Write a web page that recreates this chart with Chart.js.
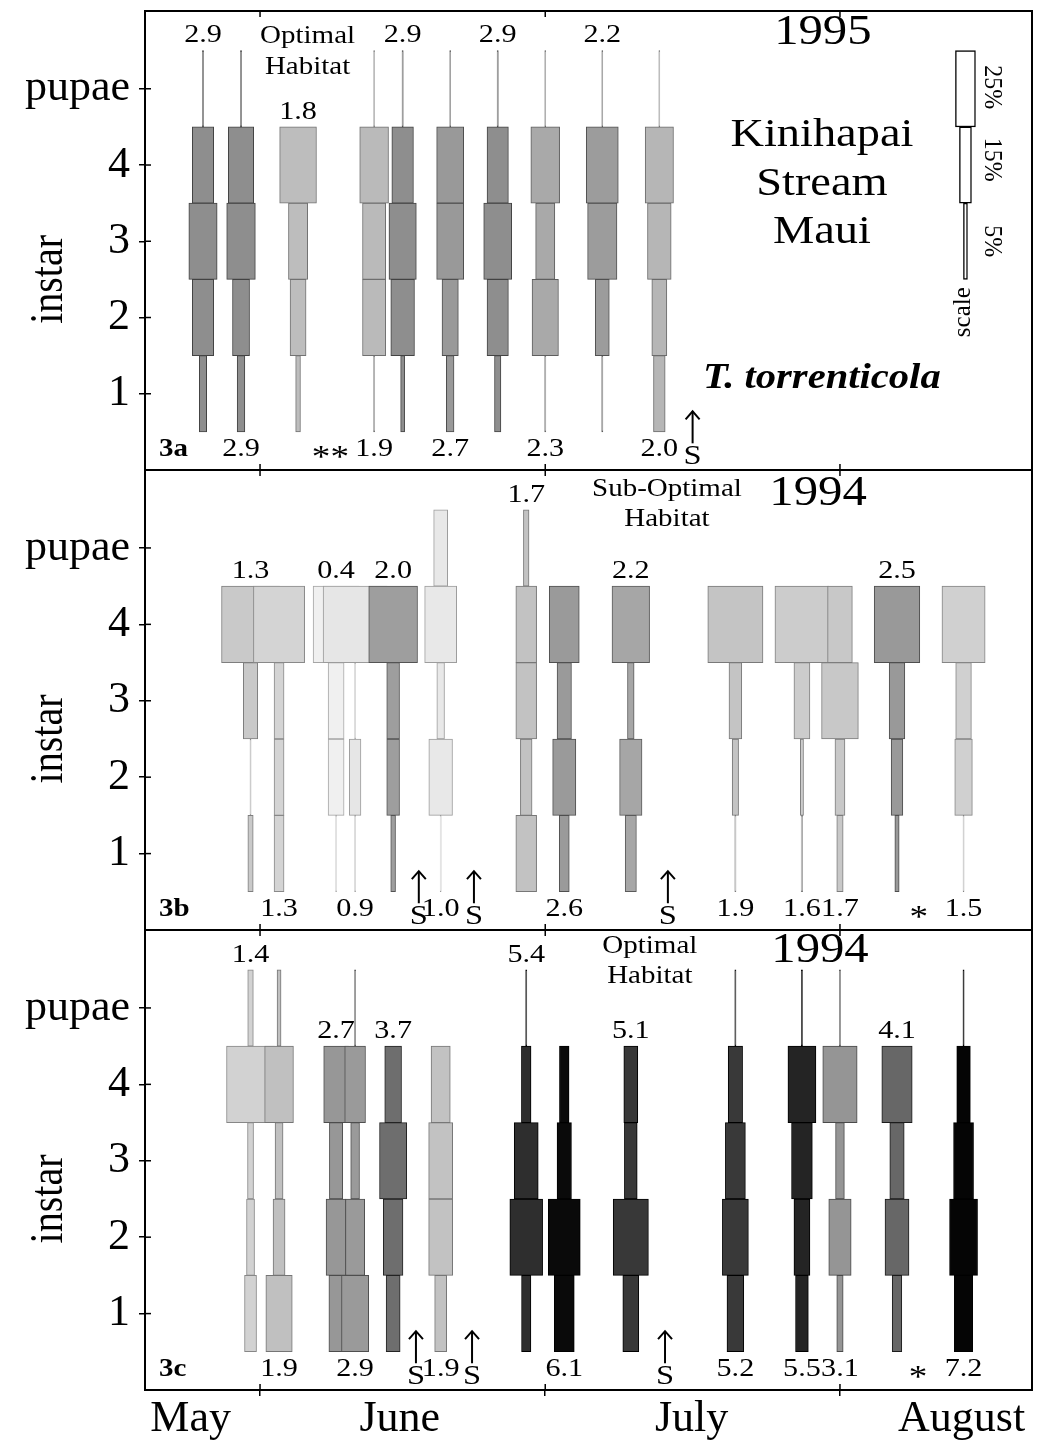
<!DOCTYPE html>
<html>
<head>
<meta charset="utf-8">
<script src="https://cdn.jsdelivr.net/npm/chart.js@4.4.1/dist/chart.umd.min.js"></script>
<style>
html,body{margin:0;padding:0;background:#fff;}
#wrap{position:relative;width:1042px;height:1441px;overflow:hidden;}
canvas{position:absolute;left:0;}
</style>
</head>
<body>
<div id="wrap">
<canvas id="c1" width="1042" height="480" style="top:0px;width:1042px;height:480px"></canvas>
<canvas id="c2" width="1042" height="480" style="top:460px;width:1042px;height:480px"></canvas>
<canvas id="c3" width="1042" height="521" style="top:920px;width:1042px;height:521px"></canvas>
</div>
<script>
// ================= DATA =================
const instarLevels = [1, 2, 3, 4, 5];
const yTickLabels = ['1', '2', '3', '4', 'pupae'];
const monthNames = ['May', 'June', 'July', 'August'];
const monthLabelDays = [23.7, 45.7, 76.4, 104.8];      // days since May 1
const monthStartDates = ['06-01', '07-01', '08-01'];

// ---- 3a : 1995, optimal habitat ----
const dates3a   = ['05-26','05-30','06-05','06-13','06-16','06-21','06-26','07-01','07-07','07-13'];
const density3a = [2.9, 2.9, 1.8, 1.9, 2.9, 2.7, 2.9, 2.3, 2.2, 2.0];
const side3a    = ['above','below','above','below','above','below','above','below','above','below'];
const instar1_3a = [9.2, 9.6, 6, 1.5, 5, 9.6, 8, 1.5, 1.5, 14.6];
const instar2_3a = [26.7, 21.3, 20, 29, 29.6, 20.4, 26.7, 33, 17.5, 18.8];
const instar3_3a = [35.4, 35.8, 24, 29, 34.2, 33.8, 35, 24, 36.7, 29.6];
const instar4_3a = [26.7, 31.7, 46, 36, 27, 33.8, 26.7, 36, 40, 35.4];
const pupae_3a   = [1.5, 1.5, 0, 1.2, 1.5, 1.2, 1.5, 1.2, 1.2, 1.2];
const storms3a   = [76.5];          // days since May 1
const stars3a    = [38.4];
const starText3a = ['**'];

// scale legend (3a)
const scaleDay = 105.2;
const scaleLevels = [5, 4, 3];
const scalePct = [25, 15, 5];
const scaleLabels = ['25%', '15%', '5%'];

// ---- 3b : 1994, sub-optimal habitat ----
const dates3b   = ['05-31','06-03','06-09','06-11','06-15','06-20','06-29','07-03','07-10','07-21','07-28','08-01','08-07','08-14'];
const density3b = [1.3, 1.3, 0.4, 0.9, 2.0, 1.0, 1.7, 2.6, 2.2, 1.9, 1.6, 1.7, 2.5, 1.5];
const side3b    = ['above','below','above','below','above','below','above','below','above','below','below','below','above','below'];
const instar1_3b = [6.7, 12.5, 1.2, 1.2, 6, 1.2, 26, 12.5, 14, 1.5, 2, 8, 5.4, 1.2];
const instar2_3b = [1.2, 12.5, 20, 14.6, 16, 29.6, 14.6, 29, 28, 8, 4, 12.5, 14.6, 22];
const instar3_3b = [18, 12.5, 20, 1.2, 16, 9.6, 26, 18, 8.3, 16, 20, 46, 19.6, 19.6];
const instar4_3b = [72.5, 64, 57.5, 80, 61, 40, 26, 37.5, 47, 69, 67.5, 31, 57, 54];
const pupae_3b   = [0, 0, 0, 0, 0, 17.5, 7, 0, 0, 0, 0, 0, 0, 0];
const storms3b   = [47.7, 53.5, 73.9];
const stars3b    = [100.3];
const starText3b = ['*'];

// ---- 3c : 1994, optimal habitat ----
const dates3c   = ['05-31','06-03','06-09','06-11','06-15','06-20','06-29','07-03','07-10','07-21','07-28','08-01','08-07','08-14'];
const density3c = [1.4, 1.9, 2.7, 2.9, 3.7, 1.9, 5.4, 6.1, 5.1, 5.2, 5.5, 3.1, 4.1, 7.2];
const side3c    = ['above','below','above','below','above','below','above','below','above','below','below','below','above','below'];
const instar1_3c = [15, 33, 18, 34, 17.5, 15, 11.7, 25, 20, 21, 16, 8, 12, 23];
const instar2_3c = [10, 15, 25, 24, 24.6, 30, 41, 40, 44, 32.5, 20, 28, 30, 35];
const instar3_3c = [7.5, 10, 16.7, 11, 34, 30, 30, 18, 16, 25, 26, 11, 18, 25];
const instar4_3c = [60, 36, 31, 26, 21, 24, 12, 12, 17.5, 18, 35, 43, 38, 17];
const pupae_3c   = [7, 5, 0, 1.5, 0, 0, 1.5, 0, 0, 1.5, 1.5, 1.5, 0, 1.5];
const storms3c   = [47.4, 53.3, 73.6];
const stars3c    = [100.2];
const starText3c = ['*'];

// ================= STYLE =================
const gray3a = [142,142,189,186,142,153,142,169,156,182];
const gray3b = [201,212,240,230,158,232,194,154,166,196,204,200,153,208];
const gray3c = [210,192,151,154,110,194,46,10,56,57,36,149,103,5];

const SERIF = "'Liberation Serif', 'Times New Roman', serif";
const X_MIN = 18.9, X_MAX = 112.2, Y_MIN = 0, Y_MAX = 6.02;
const PCT_DAYS = 0.8 / 9.508;     // width (in day units) per percent
const LABEL_LEVEL = 0.27;
const SX = 1.16;

const monthOffset = {'05': 0, '06': 31, '07': 61, '08': 92};
const doy = s => monthOffset[s.slice(0, 2)] + Number(s.slice(3)) - 1;

function grayCss(g) { return `rgb(${g},${g},${g})`; }
function darkCss(g) { const d = Math.max(0, g - 75); return `rgb(${d},${d},${d})`; }

function drawText(ctx, s, x, y, font, opt = {}) {
  ctx.save();
  ctx.translate(x, y);
  ctx.scale(opt.sx || 1, 1);
  if (opt.rot) ctx.rotate(opt.rot);
  ctx.font = font;
  ctx.fillStyle = '#000';
  ctx.textAlign = opt.align || 'center';
  ctx.textBaseline = 'middle';
  ctx.fillText(s, 0, 0);
  ctx.restore();
}
function seg(ctx, x1, y1, x2, y2) { ctx.beginPath(); ctx.moveTo(x1, y1); ctx.lineTo(x2, y2); ctx.stroke(); }

function makePanel(canvasId, P, opt) {
  const n = P.dates.length;
  const pctOf = i => [P.i1[i], P.i2[i], P.i3[i], P.i4[i], P.pup[i]];
  const datasets = P.dates.map((d, i) => {
    const c = doy(d);
    const data = [];
    pctOf(i).forEach((v, k) => {
      if (v > 0) data.push({ y: instarLevels[k], x: [c - v * PCT_DAYS / 2, c + v * PCT_DAYS / 2] });
    });
    return {
      label: d, data,
      backgroundColor: grayCss(P.gray[i]), borderColor: darkCss(P.gray[i]),
      borderWidth: 1, borderSkipped: false, grouped: false,
      barPercentage: 1, categoryPercentage: 1, order: n - i + 1
    };
  });
  if (opt.scaleLegend) {
    datasets.push({
      label: 'scale',
      data: scaleLevels.map((lv, k) => ({ y: lv, x: [scaleDay - scalePct[k] * PCT_DAYS / 2, scaleDay + scalePct[k] * PCT_DAYS / 2] })),
      backgroundColor: '#fff', borderColor: '#000', borderWidth: 1.4, borderSkipped: false,
      grouped: false, barPercentage: 1, categoryPercentage: 1, order: 0
    });
  }

  const annot = {
    id: 'annot',
    afterDatasetsDraw(chart) {
      const { ctx, chartArea: a, scales: { x, y } } = chart;
      ctx.save();
      ctx.strokeStyle = '#000';
      ctx.lineWidth = 2;
      ctx.strokeRect(a.left, a.top, a.right - a.left, a.bottom - a.top);
      ctx.lineWidth = 1.5;
      monthStartDates.forEach(m => {
        const px = x.getPixelForValue(doy(m));
        seg(ctx, px, a.top, px, a.top + 6);
        seg(ctx, px, a.bottom - 6, px, a.bottom);
      });
      instarLevels.forEach(v => {
        const py = y.getPixelForValue(v);
        seg(ctx, a.left, py, a.left + 6, py);
      });
      // density labels
      P.dates.forEach((d, i) => {
        const px = x.getPixelForValue(doy(d));
        let py;
        if (P.side[i] === 'above') {
          let top = 0;
          pctOf(i).forEach((v, k) => { if (v > 0) top = instarLevels[k]; });
          py = y.getPixelForValue(top + 0.5) - 15;
        } else {
          py = y.getPixelForValue(LABEL_LEVEL);
        }
        drawText(ctx, P.density[i].toFixed(1), px, py, `26px ${SERIF}`, { sx: SX });
      });
      // storm arrows
      ctx.lineWidth = 2;
      P.storms.forEach(dv => {
        const px = x.getPixelForValue(dv);
        const yt = y.getPixelForValue(0.77), yb = y.getPixelForValue(0.35);
        seg(ctx, px, yt, px, yb);
        ctx.beginPath();
        ctx.moveTo(px - 7, yt + 8); ctx.lineTo(px, yt); ctx.lineTo(px + 7, yt + 8);
        ctx.stroke();
        drawText(ctx, 'S', px, y.getPixelForValue(0.18), `28px ${SERIF}`, { sx: SX });
      });
      // asterisks
      P.stars.forEach((dv, k) => {
        drawText(ctx, P.starText[k], x.getPixelForValue(dv), y.getPixelForValue(LABEL_LEVEL) + 9, `32px ${SERIF}`, { sx: SX });
      });
      // panel tag
      drawText(ctx, P.tag, a.left + 14, y.getPixelForValue(LABEL_LEVEL), `bold 25px ${SERIF}`, { align: 'left', sx: SX });
      // axis title
      drawText(ctx, 'instar', a.left - 95, y.getPixelForValue(2.5), `40px ${SERIF}`, { rot: -Math.PI / 2, sx: SX });
      // free texts
      P.texts.forEach(t => {
        drawText(ctx, t.s, x.getPixelForValue(t.day), y.getPixelForValue(t.lvl), t.font, { sx: t.sx === undefined ? SX : t.sx, rot: t.rot });
      });
      ctx.restore();
    }
  };

  const boundaries = monthStartDates.map(doy);
  return new Chart(document.getElementById(canvasId), {
    type: 'bar',
    data: { datasets },
    options: {
      indexAxis: 'y',
      responsive: false,
      animation: false,
      layout: { padding: { top: opt.padTop, bottom: opt.padBottom, left: 0, right: 10 } },
      plugins: { legend: { display: false }, tooltip: { enabled: false } },
      scales: {
        x: {
          type: 'linear', min: X_MIN, max: X_MAX, stacked: false,
          display: opt.showX,
          afterFit: s => { if (opt.showX) { s.height = 51; } s.paddingLeft = 0; s.paddingRight = 0; },
          afterBuildTicks: s => {
            s.ticks = [...boundaries, ...monthLabelDays].sort((p, q) => p - q).map(v => ({ value: v }));
          },
          grid: {
            offset: false,
            drawOnChartArea: false, drawTicks: true, tickLength: 6, lineWidth: 1.5,
            tickColor: c => (c.tick && boundaries.includes(c.tick.value)) ? '#000' : 'rgba(0,0,0,0)',
            color: '#000'
          },
          border: { display: true, color: '#000', width: 2 },
          ticks: {
            autoSkip: false, maxRotation: 0, padding: -3, color: '#000',
            font: { family: SERIF, size: 44 },
            callback: v => { const k = monthLabelDays.indexOf(v); return k >= 0 ? monthNames[k] : ''; }
          }
        },
        y: {
          type: 'linear', min: Y_MIN, max: Y_MAX, offset: false, stacked: false,
          afterFit: s => { s.width = 145; s.paddingTop = 0; s.paddingBottom = 0; },
          afterBuildTicks: s => { s.ticks = instarLevels.map(v => ({ value: v })); },
          grid: { offset: false, drawOnChartArea: false, drawTicks: true, tickLength: 6, color: '#000', lineWidth: 1.5 },
          border: { display: true, color: '#000', width: 2 },
          ticks: {
            padding: 9, color: '#000',
            font: { family: SERIF, size: 44 },
            callback: v => yTickLabels[instarLevels.indexOf(v)]
          }
        }
      }
    },
    plugins: [annot]
  });
}

makePanel('c1', {
  dates: dates3a, density: density3a, side: side3a,
  i1: instar1_3a, i2: instar2_3a, i3: instar3_3a, i4: instar4_3a, pup: pupae_3a,
  gray: gray3a, storms: storms3a, stars: stars3a, starText: starText3a, tag: '3a',
  texts: [
    { s: 'Optimal', day: 36.0, lvl: 5.68, font: `25px ${SERIF}` },
    { s: 'Habitat', day: 36.0, lvl: 5.28, font: `25px ${SERIF}` },
    { s: '1995', day: 90.2, lvl: 5.73, font: `42px ${SERIF}` },
    { s: 'Kinihapai', day: 90.1, lvl: 4.39, font: `40px ${SERIF}` },
    { s: 'Stream', day: 90.1, lvl: 3.74, font: `40px ${SERIF}` },
    { s: 'Maui', day: 90.1, lvl: 3.11, font: `40px ${SERIF}` },
    { s: 'T. torrenticola', day: 90.1, lvl: 1.2, font: `italic bold 35px ${SERIF}` },
    { s: scaleLabels[0], day: 108.0, lvl: 5.02, font: `24px ${SERIF}`, rot: Math.PI / 2, sx: 1.05 },
    { s: scaleLabels[1], day: 108.0, lvl: 4.07, font: `24px ${SERIF}`, rot: Math.PI / 2, sx: 1.05 },
    { s: scaleLabels[2], day: 108.0, lvl: 3.0, font: `24px ${SERIF}`, rot: Math.PI / 2, sx: 1.05 },
    { s: 'scale', day: 105.0, lvl: 2.07, font: `25px ${SERIF}`, rot: -Math.PI / 2, sx: 1.05 }
  ]
}, { padTop: 11, padBottom: 10, showX: false, scaleLegend: true });

makePanel('c2', {
  dates: dates3b, density: density3b, side: side3b,
  i1: instar1_3b, i2: instar2_3b, i3: instar3_3b, i4: instar4_3b, pup: pupae_3b,
  gray: gray3b, storms: storms3b, stars: stars3b, starText: starText3b, tag: '3b',
  texts: [
    { s: 'Sub-Optimal', day: 73.8, lvl: 5.77, font: `25px ${SERIF}` },
    { s: 'Habitat', day: 73.8, lvl: 5.37, font: `25px ${SERIF}` },
    { s: '1994', day: 89.7, lvl: 5.70, font: `42px ${SERIF}` }
  ]
}, { padTop: 10, padBottom: 10, showX: false, scaleLegend: false });

makePanel('c3', {
  dates: dates3c, density: density3c, side: side3c,
  i1: instar1_3c, i2: instar2_3c, i3: instar3_3c, i4: instar4_3c, pup: pupae_3c,
  gray: gray3c, storms: storms3c, stars: stars3c, starText: starText3c, tag: '3c',
  texts: [
    { s: 'Optimal', day: 72.0, lvl: 5.80, font: `25px ${SERIF}` },
    { s: 'Habitat', day: 72.0, lvl: 5.41, font: `25px ${SERIF}` },
    { s: '1994', day: 89.9, lvl: 5.74, font: `42px ${SERIF}` }
  ]
}, { padTop: 10, padBottom: 0, showX: true, scaleLegend: false });
</script>
</body>
</html>
